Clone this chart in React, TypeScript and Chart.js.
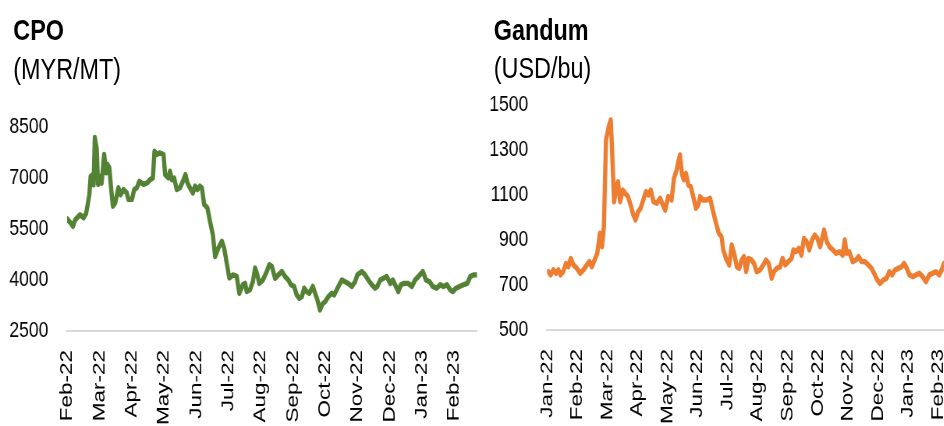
import React, { useEffect, useRef } from 'react';
import { Chart, registerables } from 'chart.js';

Chart.register(...registerables);

// ---------- data ----------
const cpoMonthLabels = ['Feb-22', 'Mar-22', 'Apr-22', 'May-22', 'Jun-22', 'Jul-22', 'Aug-22', 'Sep-22', 'Oct-22', 'Nov-22', 'Dec-22', 'Jan-23', 'Feb-23'];
const wheatMonthLabels = ['Jan-22', 'Feb-22', 'Mar-22', 'Apr-22', 'May-22', 'Jun-22', 'Jul-22', 'Aug-22', 'Sep-22', 'Oct-22', 'Nov-22', 'Dec-22', 'Jan-23', 'Feb-23'];

// position in months since first label (fractional = day within month)
const cpoMonth = [0, 0.09, 0.18, 0.25, 0.40, 0.51, 0.59, 0.63, 0.69, 0.73,
  0.80, 0.82, 0.86, 0.92, 0.96, 1.02, 1.07, 1.15, 1.21, 1.25,
  1.31, 1.35, 1.42, 1.49, 1.59, 1.66, 1.75, 1.85, 1.90, 2.01,
  2.08, 2.16, 2.24, 2.37, 2.49, 2.57, 2.66, 2.71, 2.78, 2.86,
  2.99, 3.04, 3.14, 3.19, 3.25, 3.32, 3.40, 3.50, 3.59, 3.67,
  3.73, 3.81, 3.90, 3.97, 4.04, 4.12, 4.18, 4.25, 4.35, 4.43,
  4.52, 4.59, 4.69, 4.80, 4.87, 4.95, 5.03, 5.14, 5.26, 5.34,
  5.45, 5.52, 5.57, 5.67, 5.76, 5.83, 5.90, 5.96, 6.07, 6.17,
  6.27, 6.35, 6.45, 6.55, 6.66, 6.76, 6.86, 6.94, 7.04, 7.12,
  7.20, 7.28, 7.35, 7.43, 7.51, 7.62, 7.69, 7.76, 7.84, 7.93,
  8.00, 8.10, 8.21, 8.28, 8.36, 8.44, 8.52, 8.62, 8.72, 8.83,
  8.93, 9.00, 9.14, 9.24, 9.34, 9.45, 9.55, 9.62, 9.71, 9.81,
  9.91, 10.02, 10.10, 10.17, 10.27, 10.35, 10.45, 10.58, 10.69, 10.79,
  10.89, 11.03, 11.13, 11.24, 11.34, 11.46, 11.57, 11.67, 11.78, 11.88,
  11.96, 12.06, 12.17, 12.29, 12.41, 12.50, 12.60, 12.70];

const cpoPrice = [5800, 5700, 5580, 5770, 5920, 5830, 5960, 6170, 6510, 7050,
  7100, 6800, 8190, 7850, 6810, 7050, 6850, 7690, 7150, 7400,
  7300, 6850, 6170, 6260, 6710, 6510, 6660, 6560, 6370, 6370,
  6660, 6710, 6900, 6810, 6860, 6950, 7000, 7790, 7690, 7740,
  7690, 7100, 7000, 7200, 6950, 7000, 6660, 6710, 6900, 7100,
  6860, 6710, 6560, 6760, 6660, 6760, 6710, 6220, 6120, 5730,
  5330, 4690, 4940, 5140, 4940, 4500, 4060, 4150, 4110, 3610,
  3860, 3900, 3660, 3710, 3950, 4350, 4150, 3900, 4000, 4200,
  4450, 4400, 4050, 4150, 4250, 4100, 4000, 3860, 3810, 3560,
  3460, 3510, 3760, 3660, 3610, 3810, 3610, 3420, 3120, 3310,
  3360, 3510, 3610, 3560, 3710, 3860, 4000, 3950, 3900, 3810,
  3950, 4150, 4250, 4150, 4000, 3860, 3760, 3810, 4000, 4050,
  4100, 3900, 4000, 3860, 3660, 3860, 3900, 3900, 3810, 4000,
  4100, 4250, 4000, 3950, 3810, 3760, 3860, 3810, 3860, 3710,
  3660, 3760, 3810, 3860, 3900, 4100, 4150, 4150];

const wheatMonth = [0.04, 0.12, 0.21, 0.30, 0.38, 0.45, 0.54, 0.63, 0.71, 0.79,
  0.88, 0.99, 1.10, 1.21, 1.32, 1.41, 1.49, 1.60, 1.67, 1.76,
  1.83, 1.89, 1.96, 2.05, 2.12, 2.16, 2.23, 2.29, 2.36, 2.43,
  2.52, 2.60, 2.69, 2.78, 2.87, 2.94, 3.03, 3.11, 3.20, 3.29,
  3.37, 3.45, 3.54, 3.65, 3.76, 3.85, 3.93, 4.03, 4.14, 4.22,
  4.31, 4.38, 4.42, 4.49, 4.55, 4.62, 4.70, 4.78, 4.86, 4.95,
  5.03, 5.09, 5.18, 5.31, 5.42, 5.51, 5.62, 5.71, 5.80, 5.86,
  5.95, 6.06, 6.14, 6.22, 6.31, 6.39, 6.47, 6.55, 6.62, 6.70,
  6.80, 6.88, 6.97, 7.08, 7.19, 7.28, 7.37, 7.47, 7.55, 7.64,
  7.75, 7.83, 7.92, 8.02, 8.13, 8.19, 8.28, 8.37, 8.46, 8.54,
  8.63, 8.72, 8.81, 8.90, 8.99, 9.08, 9.16, 9.21, 9.30, 9.39,
  9.50, 9.61, 9.72, 9.83, 9.90, 9.96, 10.05, 10.16, 10.27, 10.36,
  10.46, 10.57, 10.68, 10.79, 10.90, 10.98, 11.07, 11.18, 11.29, 11.38,
  11.47, 11.57, 11.68, 11.79, 11.87, 11.96, 12.05, 12.16, 12.27, 12.38,
  12.49, 12.60, 12.71, 12.82, 12.93, 13.04, 13.12, 13.20];

const wheatPrice = [760, 745, 767, 752, 767, 745, 760, 796, 781, 818,
  789, 774, 752, 767, 789, 804, 781, 818, 841, 930,
  870, 959, 1344, 1404, 1433, 1307, 1070, 1122, 1159, 1070,
  1122, 1107, 1093, 1056, 1011, 989, 1026, 1041, 1078, 1115,
  1100, 1122, 1070, 1063, 1085, 1056, 1033, 1093, 1078, 1174,
  1211, 1256, 1278, 1189, 1167, 1196, 1144, 1137, 1093, 1041,
  1056, 1093, 1078, 1078, 1085, 1033, 974, 930, 915, 856,
  818, 789, 878, 841, 781, 774, 811, 826, 760, 818,
  811, 796, 759, 767, 789, 811, 796, 730, 760, 774,
  781, 818, 789, 804, 818, 856, 848, 863, 833, 907,
  893, 856, 900, 922, 907, 870, 915, 944, 893, 870,
  856, 841, 848, 833, 900, 841, 848, 804, 811, 826,
  804, 804, 789, 774, 745, 722, 707, 722, 730, 759,
  745, 767, 774, 781, 796, 774, 745, 737, 745, 752,
  737, 715, 745, 752, 759, 745, 767, 796];

const cpoTitle = 'CPO';
const cpoUnit = '(MYR/MT)';
const wheatTitle = 'Gandum';
const wheatUnit = '(USD/bu)';

// ---------- layout ----------
const SX = 0.78; // horizontal compression of the source image
const FULL_W = 1211;
const H = 426;
const FONT = '"Liberation Sans", Arial, Helvetica, sans-serif';
const TICK_SIZE = 22.5;

type PanelProps = {
  left: number;
  width: number;
  axisW: number;
  padTop: number;
  padRight: number;
  bottomY: number;
  months: string[];
  xs: number[];
  ys: number[];
  color: string;
  yMin: number;
  yMax: number;
  yStep: number;
  xMax: number;
};

function Panel(p: PanelProps) {
  const ref = useRef<HTMLCanvasElement | null>(null);
  useEffect(() => {
    if (!ref.current) return;
    const chart = new Chart(ref.current, {
      type: 'line',
      data: {
        datasets: [
          {
            data: p.xs.map((x, i) => ({ x, y: p.ys[i] })),
            borderColor: p.color,
            backgroundColor: p.color,
            borderWidth: 5.4,
            pointRadius: 0,
            tension: 0,
            borderJoinStyle: 'round',
            borderCapStyle: 'round',
            fill: false,
          },
        ],
      },
      options: {
        animation: false,
        responsive: false,
        events: [],
        layout: { padding: { top: p.padTop, right: p.padRight, left: 0, bottom: 0 } },
        plugins: { legend: { display: false }, tooltip: { enabled: false }, title: { display: false } },
        scales: {
          x: {
            type: 'linear',
            min: 0,
            max: p.xMax,
            afterBuildTicks: (a: any) => {
              a.ticks = p.months.map((_, i) => ({ value: i }));
            },
            afterFit: (a: any) => {
              a.height = H - p.bottomY;
              a.paddingLeft = 0;
              a.paddingRight = 0;
            },
            ticks: {
              autoSkip: false,
              maxRotation: 90,
              minRotation: 90,
              padding: 19,
              color: '#000',
              font: { family: FONT, size: TICK_SIZE },
              callback: (v: any) => p.months[Math.round(v)] ?? '',
            },
            grid: { display: true, drawOnChartArea: false, drawTicks: false },
            border: { display: true, color: '#d9d9d9', width: 2 },
          },
          y: {
            min: p.yMin,
            max: p.yMax,
            ticks: {
              stepSize: p.yStep,
              padding: 24,
              color: '#000',
              font: { family: FONT, size: TICK_SIZE },
              callback: (v: any) => String(v),
            },
            afterFit: (a: any) => {
              a.width = p.axisW;
            },
            grid: { display: false, drawTicks: false },
            border: { display: false },
          },
        },
      },
    } as any);
    return () => chart.destroy();
  }, []);
  return (
    <canvas
      ref={ref}
      width={p.width}
      height={H}
      style={{ position: 'absolute', left: p.left, top: 0, width: p.width, height: H, display: 'block' }}
    />
  );
}

const titleStyle = (left: number, top: number, bold: boolean): React.CSSProperties => ({
  position: 'absolute',
  left,
  top,
  fontFamily: FONT,
  fontSize: 30,
  lineHeight: '30px',
  fontWeight: bold ? 700 : 400,
  color: '#000',
  whiteSpace: 'nowrap',
});

export default function App() {
  return (
    <div style={{ position: 'fixed', left: 0, top: 0, width: 944, height: H, overflow: 'hidden', background: '#fff' }}>
      <div
        style={{
          position: 'absolute',
          left: 0,
          top: 0,
          width: FULL_W,
          height: H,
          transform: `scaleX(${SX})`,
          transformOrigin: '0 0',
        }}
      >
        <div style={titleStyle(17, 15, true)}>{cpoTitle}</div>
        <div style={titleStyle(17, 53.5, false)}>{cpoUnit}</div>
        <div style={titleStyle(633, 14.6, true)}>{wheatTitle}</div>
        <div style={titleStyle(633, 52.8, false)}>{wheatUnit}</div>
        <Panel
          left={0}
          width={615}
          axisW={86}
          padTop={127}
          padRight={3.5}
          bottomY={331}
          months={cpoMonthLabels}
          xs={cpoMonth}
          ys={cpoPrice}
          color="#548235"
          yMin={2500}
          yMax={8500}
          yStep={1500}
          xMax={12.71}
        />
        <Panel
          left={620}
          width={591}
          axisW={81.3}
          padTop={105}
          padRight={0.7}
          bottomY={330}
          months={wheatMonthLabels}
          xs={wheatMonth}
          ys={wheatPrice}
          color="#ED7D31"
          yMin={500}
          yMax={1500}
          yStep={200}
          xMax={13.2}
        />
      </div>
    </div>
  );
}
